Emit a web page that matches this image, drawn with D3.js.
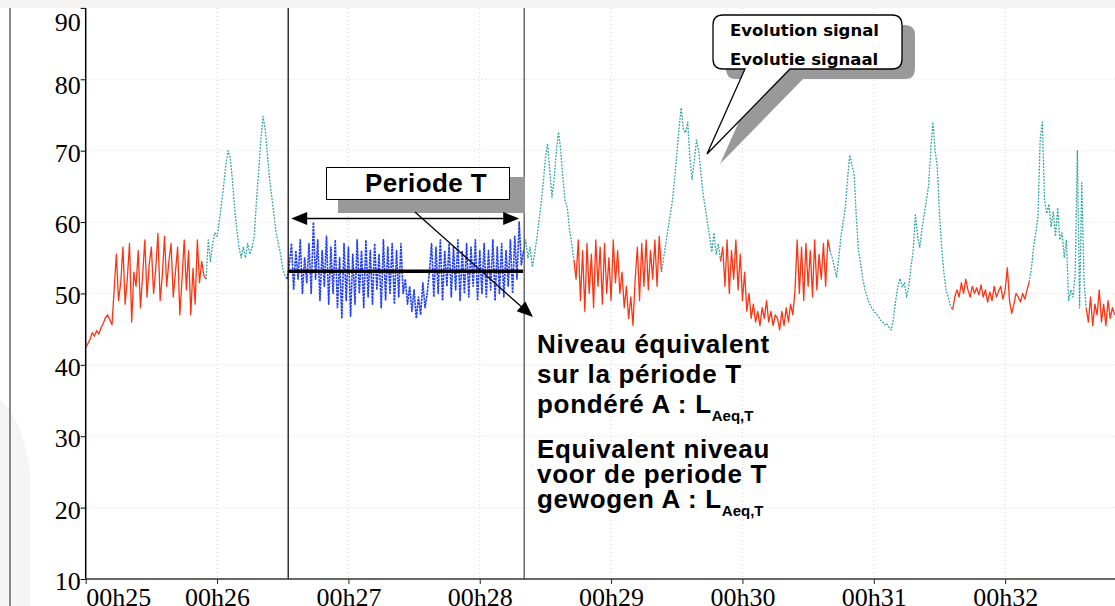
<!DOCTYPE html>
<html>
<head>
<meta charset="utf-8">
<script src="https://cdn.jsdelivr.net/npm/d3@7"></script>
<style>
	body {margin: 0; background: #fff;}
	svg {display: block;}
</style>
</head>
<body>
<div id="chart"></div>
<script>
// Data: sound level (dB(A)) sampled each second from 00h25:00
// each array starts at the second given in `segments`
const red1 = [42.4, 43, 43.6, 44.5, 44, 44.8, 44.3, 45.2, 45.8, 46.6, 47, 46.3, 45.6,
	50.5, 55.5, 49, 51.5, 56.5, 48.5, 52, 57, 46, 53,
	51, 56, 48, 52.5, 57.5, 49.5, 54, 56.5, 50, 53.5,
	58.4, 49, 52.5, 58, 51, 54.5, 57, 49.5, 53, 56.5,
	47, 52, 57.5, 50.5, 56, 47, 53.5, 48.5, 57.5, 51.5,
	54.5, 52.5, 52]
const teal1 = [52, 57.5, 54.5, 57, 58.5, 58, 60, 62.5, 65, 68, 70, 69, 66, 62, 59,
	56.5, 55, 56.5, 55, 57, 55.5, 56.5, 58, 63, 67, 71.5, 74.8, 73, 69.5, 66,
	63.5, 61, 58.5, 57, 55.5, 53.5, 52.5, 52]
const bluePeriod = [52,
	54, 57, 50.5, 56, 52, 57.5, 50, 55, 51.5, 57,
	50, 60, 52, 57.5, 49, 56, 51, 58, 48.5, 56.5,
	50, 57.5, 48, 55, 46.5, 57, 49, 56.5, 46.8, 55.5,
	48.5, 57.5, 50, 56, 48, 57.5, 49.5, 56, 48.5, 57,
	50.5, 55.5, 48, 57.5, 49, 56.5, 50, 57, 48.5, 56,
	49.5, 57, 50, 52, 48.5, 51, 47.5, 50.5, 46.5, 49.5,
	47, 51.5, 48, 50, 53, 57, 49.5, 56.5, 50, 57.5,
	49, 56, 51, 57, 49.5, 56.5, 50.5, 57.5, 49, 56,
	50, 57, 49.5, 56.5, 51, 57.5, 49, 56, 50, 57,
	49.5, 56, 50.5, 57.5, 49, 56.5, 50, 57, 49.5, 56,
	51, 57.5, 50, 58, 52, 60, 54, 56]
const teal2 = [56, 57.5, 55, 56.5, 53.7, 55.5, 57.5, 60, 62.5, 65.5, 69, 71, 67, 63.5, 66,
	70, 72.6, 70, 66, 63, 62, 59, 57, 54.7]
const red2 = [54.7,
	52, 57.5, 49, 56, 47.5, 57, 50, 55.5, 48, 57.5,
	51, 56.5, 48.5, 57, 50, 55, 49, 57.5, 51.5, 56,
	50, 53, 48, 51, 46.5, 49.5, 45.5, 52, 56.5, 49,
	57, 51, 57.5, 50.5, 56, 52, 57.5, 51, 58, 53]
const teal3 = [53,
	55, 57, 59, 61, 63, 66, 69.5, 73, 76, 73,
	72.5, 74, 69, 66, 68.5, 71.5, 70, 67, 64, 62,
	60, 58, 55.8, 58.5, 55.5, 57, 54.5]
const red3 = [54.5,
	56.5, 51, 57.5, 50, 56, 52, 57.5, 50.5, 55.5, 49,
	53, 47.5, 50, 46.5, 48.5, 46, 47.5, 45.5, 48, 46.5,
	49, 46, 47.5, 45.5, 47, 46.5, 44.9, 47.5, 45.5, 48,
	46, 48.5, 47, 50.5, 57.5, 50, 56.5, 49, 57, 51,
	56, 49.5, 57.5, 50.5, 55.5, 52, 57, 51, 57.5, 56]
const teal4 = [56,
	55, 53.7, 52.3, 55, 58, 60, 62, 66, 69.4, 68,
	66.8, 60.7, 56, 54.2, 52, 50.5, 49.5, 48.6, 48, 47.5,
	47.2, 46.8, 46.3, 46, 45.6, 45.8, 45.2, 44.9, 46.5, 49,
	51, 52.1, 50.9, 51.5, 49.5, 51, 53.7, 56, 61, 58,
	56.5, 59, 61, 63, 65, 70, 74, 70, 67.7, 61.2,
	56.5, 53, 50.5, 49.5, 48.3, 47.7]
const red4 = [47.7,
	49.5, 50.5, 49.5, 51.5, 50, 52, 50.5, 49.5, 51, 50,
	50.8, 49.8, 51.2, 49.5, 50.5, 48.8, 50.2, 49, 51, 49.5,
	50.3, 51, 49.2, 50.5, 53.6, 49, 47.2, 48.5, 50, 49.5,
	48.8, 50, 49.2, 50.5, 51.6]
const teal5 = [51.6,
	53.5, 56.5, 58.5, 60.7, 71.5, 74, 63, 61.2, 62.5, 59.3,
	61.5, 58, 62, 57.5, 58.5, 55, 57.5, 49, 50.5, 49.5,
	52.8, 70, 48, 65.5, 52, 48]
const red5 = [48, 46, 49.5, 45.5, 48.5, 47, 50.5, 46, 48.5, 45.5, 49, 46.5, 48, 47]

const segments = [
	{kind: 'red', start: 0, values: red1},
	{kind: 'teal', start: 55, values: teal1},
	{kind: 'blue', start: 92, values: bluePeriod},
	{kind: 'teal', start: 200, values: teal2},
	{kind: 'red', start: 223, values: red2},
	{kind: 'teal', start: 263, values: teal3},
	{kind: 'red', start: 290, values: red3},
	{kind: 'teal', start: 340, values: teal4},
	{kind: 'red', start: 396, values: red4},
	{kind: 'teal', start: 431, values: teal5},
	{kind: 'red', start: 457, values: red5},
]

const yTickValues = [10, 20, 30, 40, 50, 60, 70, 80, 90]
const xTickMinutes = [25, 26, 27, 28, 29, 30, 31, 32]
const periodStart = 92.5, periodEnd = 200.3 // seconds
const laeq = 53.1

const styles = {
	red: {stroke: '#ff3311', width: 1.3, dash: null},
	teal: {stroke: '#2aa3a3', width: 1.3, dash: '1.8,1.4'},
	blue: {stroke: '#1e3cff', width: 1.6, dash: '2.5,0.8'},
}

const W = 1115, H = 606
const svg = d3.select('#chart').append('svg').attr('width', W).attr('height', H)
const x = d3.scaleLinear().domain([0, 470]).range([85.7, 1114.6])
const y = d3.scaleLinear().domain([10, 90]).range([579, 7.9])
const serif = "'Liberation Serif', 'Times New Roman', serif"
const sans = "'Liberation Sans', Arial, sans-serif"

// background frame
svg.append('rect').attr('width', W).attr('height', H).attr('fill', '#fff')
svg.append('rect').attr('width', W).attr('height', 8).attr('fill', '#f4f4f4')
svg.append('path').attr('d', 'M0,400 C14,410 26,440 30,470 L30,606 L0,606 Z').attr('fill', '#f5f5f5')
svg.append('line').attr('x1', 10).attr('x2', 10).attr('y1', 8).attr('y2', H)
	.attr('stroke', '#888').attr('stroke-width', 2)

// grid
svg.append('g').selectAll('line').data(yTickValues.filter(d => d > 10 && d < 90)).join('line')
	.attr('x1', x(0)).attr('x2', W).attr('y1', d => y(d)).attr('y2', d => y(d))
	.attr('stroke', '#d4d4d4').attr('stroke-dasharray', '1,3')
svg.append('g').selectAll('line').data(xTickMinutes.slice(1)).join('line')
	.attr('x1', d => x((d - 25) * 60)).attr('x2', d => x((d - 25) * 60))
	.attr('y1', 8).attr('y2', y(10))
	.attr('stroke', '#d4d4d4').attr('stroke-dasharray', '1,3')

// signal
svg.append('clipPath').attr('id', 'plot').append('rect')
	.attr('x', x(0)).attr('y', 8).attr('width', W - x(0)).attr('height', y(10) - 8)
const plot = svg.append('g').attr('clip-path', 'url(#plot)')
segments.forEach(seg => {
	const st = styles[seg.kind]
	const line = d3.line().x((d, i) => x(seg.start + i)).y(d => y(d))
	plot.append('path').attr('d', line(seg.values))
		.attr('fill', 'none').attr('stroke', st.stroke).attr('stroke-width', st.width)
		.attr('stroke-dasharray', st.dash).attr('stroke-linejoin', 'round')
})

// period boundaries + LAeq level
svg.append('line').attr('x1', x(periodStart)).attr('x2', x(periodStart)).attr('y1', 8).attr('y2', y(10))
	.attr('stroke', '#000').attr('stroke-width', 1.2)
svg.append('line').attr('x1', x(periodEnd)).attr('x2', x(periodEnd)).attr('y1', 8).attr('y2', y(10))
	.attr('stroke', '#444').attr('stroke-width', 1.2)
svg.append('line').attr('x1', x(periodStart)).attr('x2', x(periodEnd) - 1).attr('y1', y(laeq)).attr('y2', y(laeq))
	.attr('stroke', '#000').attr('stroke-width', 3.5)

// axes
const yAxis = svg.append('g').attr('transform', `translate(${x(0)},0)`)
	.call(d3.axisLeft(y).tickValues(yTickValues).tickSize(5).tickPadding(0).tickFormat(d3.format('d')))
yAxis.select('.domain').remove()
yAxis.selectAll('.tick line').attr('stroke', '#000')
yAxis.selectAll('.tick text').attr('dy', null).attr('y', d => d === 90 ? 23 : (d === 80 ? 14 : 10.5))
	.style('font-family', serif).style('font-size', '26px').attr('fill', '#000')
svg.append('line').attr('x1', x(0)).attr('x2', x(0)).attr('y1', 8).attr('y2', y(10))
	.attr('stroke', '#000').attr('stroke-width', 1.5)

const xAxis = svg.append('g').attr('transform', `translate(0,${y(10)})`)
	.call(d3.axisBottom(x).tickValues(xTickMinutes.map(m => (m - 25) * 60)).tickSize(5)
		.tickFormat(s => '00h' + (25 + s / 60)))
xAxis.select('.domain').remove()
xAxis.selectAll('.tick line').attr('stroke', '#222')
xAxis.selectAll('.tick text').attr('dy', null).attr('y', 27)
	.attr('text-anchor', (d, i) => i === 0 ? 'start' : 'middle')
	.style('font-family', serif).style('font-size', '26px').attr('fill', '#000')
svg.append('line').attr('x1', x(0)).attr('x2', W).attr('y1', y(10)).attr('y2', y(10))
	.attr('stroke', '#333').attr('stroke-width', 1.3)

// "Periode T" box and arrows
const ann = svg.append('g')
ann.append('rect').attr('x', 338).attr('y', 177).attr('width', 187).attr('height', 36).attr('fill', '#999')
ann.append('rect').attr('x', 326.5).attr('y', 167.5).attr('width', 183).attr('height', 32)
	.attr('fill', '#fff').attr('stroke', '#000').attr('stroke-width', 1)
ann.append('text').attr('x', 365).attr('y', 192).text('Periode T')
	.style('font-family', sans).style('font-weight', 'bold').style('font-size', '26px')
	.style('letter-spacing', '0.4px')

const ay = y(60.5)
const ax0 = x(periodStart) + 3, ax1 = x(periodEnd) - 5
ann.append('line').attr('x1', ax0 + 10).attr('x2', ax1 - 10).attr('y1', ay).attr('y2', ay)
	.attr('stroke', '#000').attr('stroke-width', 1.4)
ann.append('path').attr('d', `M${ax0},${ay} l16,-6.5 l0,13 Z M${ax1},${ay} l-16,-6.5 l0,13 Z`).attr('fill', '#000')

function arrowHead(x1, y1, x2, y2, len, half) {
	const a = Math.atan2(y2 - y1, x2 - x1)
	const bx = x2 - len * Math.cos(a), by = y2 - len * Math.sin(a)
	const px = -Math.sin(a) * half, py = Math.cos(a) * half
	return `M${x2},${y2} L${bx + px},${by + py} L${bx - px},${by - py} Z`
}
ann.append('line').attr('x1', 415).attr('y1', 212).attr('x2', 524).attr('y2', 309)
	.attr('stroke', '#000').attr('stroke-width', 1.3)
ann.append('path').attr('d', arrowHead(415, 212, 533, 317, 16, 6.5)).attr('fill', '#000')

// callout "Evolution signal"
const call = svg.append('g')
const calloutShape = 'M723,15 L892,15 Q902,15 902,25 L902,59 Q902,69 892,69 L790,69 L707,154 L745,69 L723,69 Q713,69 713,59 L713,25 Q713,15 723,15 Z'
call.append('path').attr('d', calloutShape).attr('transform', 'translate(13,10)').attr('fill', '#999')
call.append('path').attr('d', calloutShape).attr('fill', '#fff').attr('stroke', '#000').attr('stroke-width', 1.3)
call.append('text').attr('x', 730).attr('y', 36).text('Evolution signal')
	.style('font-family', "'DejaVu Sans', Verdana, sans-serif").style('font-weight', 'bold').style('font-size', '16.5px')
call.append('text').attr('x', 730).attr('y', 65).text('Evolutie signaal')
	.style('font-family', "'DejaVu Sans', Verdana, sans-serif").style('font-weight', 'bold').style('font-size', '16.5px')

// LAeq explanation
const lines = [
	{y: 353, text: 'Niveau équivalent'},
	{y: 383, text: 'sur la période T'},
	{y: 413, text: 'pondéré A : L', sub: 'Aeq,T'},
	{y: 458, text: 'Equivalent niveau'},
	{y: 483, text: 'voor de periode T'},
	{y: 508, text: 'gewogen A : L', sub: 'Aeq,T'},
]
lines.forEach(l => {
	const t = svg.append('text').attr('x', 537).attr('y', l.y)
		.style('font-family', sans).style('font-weight', 'bold').style('font-size', '26px')
		.style('letter-spacing', '0.7px').attr('fill', '#000')
	t.append('tspan').text(l.text)
	if (l.sub) t.append('tspan').attr('dy', 8).style('font-size', '15px').style('letter-spacing', '0px').text(l.sub)
})
</script>
</body>
</html>
